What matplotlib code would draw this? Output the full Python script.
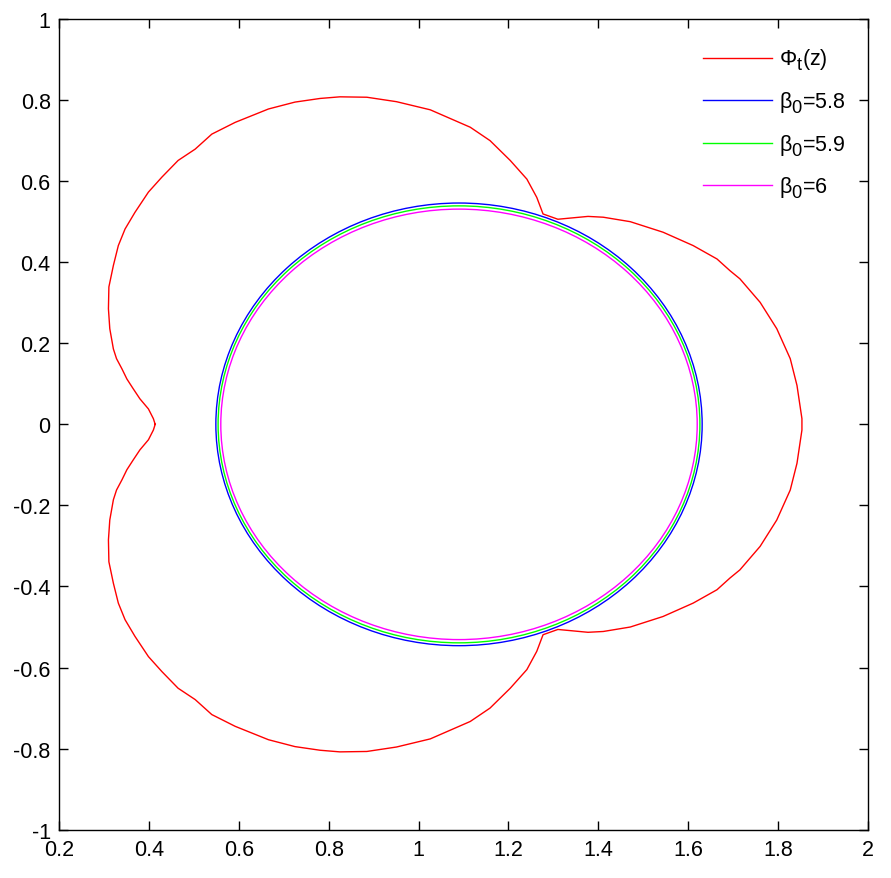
import matplotlib
matplotlib.use('Agg')
import matplotlib.pyplot as plt
from matplotlib.patches import Ellipse
from matplotlib.lines import Line2D

try:
    import matplotlib._mathtext as _mt
    _mt.SHRINK_FACTOR = 0.85
    _mt.FontConstantsBase.sub1 = 0.45
except Exception:
    pass

plt.rcParams['font.family'] = ['Liberation Sans', 'DejaVu Sans']
plt.rcParams['mathtext.fontset'] = 'custom'
plt.rcParams['mathtext.rm'] = 'Liberation Sans'
plt.rcParams['mathtext.it'] = 'Liberation Sans:italic'
plt.rcParams['mathtext.default'] = 'regular'

# Red curve Phi_t(z): upper half (cusp -> top -> kink -> right end), then lower half back
phi_x = [0.414, 0.410, 0.399, 0.380, 0.365, 0.351, 0.340, 0.328, 0.321, 0.313,
         0.310, 0.311, 0.321, 0.332, 0.347, 0.369, 0.399, 0.429, 0.465, 0.503,
         0.540, 0.592, 0.666, 0.725, 0.781, 0.825, 0.885, 0.951, 1.026, 1.115,
         1.159, 1.204, 1.241, 1.263, 1.277, 1.310, 1.377, 1.411, 1.471, 1.544,
         1.611, 1.664, 1.693, 1.715, 1.760, 1.797, 1.827, 1.842, 1.853, 1.853,
         1.853, 1.842, 1.827, 1.797, 1.760, 1.715, 1.693, 1.664, 1.611, 1.544,
         1.471, 1.411, 1.377, 1.310, 1.277, 1.263, 1.241, 1.204, 1.159, 1.115,
         1.026, 0.951, 0.885, 0.825, 0.781, 0.725, 0.666, 0.592, 0.540, 0.503,
         0.465, 0.429, 0.399, 0.369, 0.347, 0.332, 0.321, 0.311, 0.310, 0.313,
         0.321, 0.328, 0.340, 0.351, 0.365, 0.380, 0.399, 0.410, 0.414]
phi_y = [0.000, 0.014, 0.038, 0.063, 0.088, 0.112, 0.137, 0.162, 0.186, 0.236,
         0.285, 0.339, 0.392, 0.441, 0.482, 0.523, 0.573, 0.610, 0.651, 0.679,
         0.716, 0.745, 0.778, 0.795, 0.804, 0.808, 0.807, 0.796, 0.776, 0.733,
         0.700, 0.651, 0.605, 0.560, 0.519, 0.506, 0.513, 0.511, 0.500, 0.474,
         0.441, 0.408, 0.379, 0.359, 0.301, 0.236, 0.162, 0.096, 0.014, 0.000,
         -0.014, -0.096, -0.162, -0.236, -0.301, -0.359, -0.379, -0.408, -0.441, -0.474,
         -0.500, -0.511, -0.513, -0.506, -0.519, -0.560, -0.605, -0.651, -0.700, -0.733,
         -0.776, -0.796, -0.807, -0.808, -0.804, -0.795, -0.778, -0.745, -0.716, -0.679,
         -0.651, -0.610, -0.573, -0.523, -0.482, -0.441, -0.392, -0.339, -0.285, -0.236,
         -0.186, -0.162, -0.137, -0.112, -0.088, -0.063, -0.038, -0.014, 0.000]

# Closed curves for beta_0 values (centre and semi-axes in data units)
beta_values = ['5.8', '5.9', '6']
beta_colors = ['#0000ff', '#00ff00', '#ff00ff']
circle_cx = [1.090, 1.090, 1.090]
circle_cy = [0.0, 0.0, 0.0]
circle_rx = [0.541, 0.536, 0.530]
circle_ry = [0.546, 0.539, 0.531]

xticks = [0.2, 0.4, 0.6, 0.8, 1.0, 1.2, 1.4, 1.6, 1.8, 2.0]
xticklabels = ['0.2', '0.4', '0.6', '0.8', '1', '1.2', '1.4', '1.6', '1.8', '2']
yticks = [-1.0, -0.8, -0.6, -0.4, -0.2, 0.0, 0.2, 0.4, 0.6, 0.8, 1.0]
yticklabels = ['-1', '-0.8', '-0.6', '-0.4', '-0.2', '0', '0.2', '0.4', '0.6', '0.8', '1']

fig = plt.figure(figsize=(8.91, 8.79), dpi=100)
ax = fig.add_axes([59 / 891, 48.3 / 879, 809 / 891, 810.7 / 879])

lw = 1.0
ax.plot(phi_x, phi_y, color='#ff0000', lw=lw)
for cx, cy, rx, ry, c in zip(circle_cx, circle_cy, circle_rx, circle_ry, beta_colors):
    ax.add_patch(Ellipse((cx, cy), 2 * rx, 2 * ry, fill=False, edgecolor=c, lw=lw))

ax.set_xlim(0.2, 2.0)
ax.set_ylim(-1.0, 1.0)
ax.set_xticks(xticks)
ax.set_xticklabels(xticklabels)
ax.set_yticks(yticks)
ax.set_yticklabels(yticklabels)
ax.tick_params(direction='in', length=6.5, width=1.0, top=True, right=True,
               labelsize=15.5, colors='black')
ax.tick_params(axis='x', pad=7)
ax.tick_params(axis='y', pad=6)
for s in ax.spines.values():
    s.set_linewidth(1.0)

handles = [Line2D([], [], color='#ff0000', lw=lw)]
labels = [r'$\Phi_{t}$(z)']
for v, c in zip(beta_values, beta_colors):
    handles.append(Line2D([], [], color=c, lw=lw))
    labels.append(r'$\beta_{0}$=' + v)
leg = ax.legend(handles, labels, loc='upper left', bbox_to_anchor=(0.786, 0.976),
                frameon=False, fontsize=15.5, handlelength=3.2, handletextpad=0.3,
                labelspacing=0.8, borderaxespad=0.0)

fig.savefig('out.png', dpi=100, facecolor='white')
